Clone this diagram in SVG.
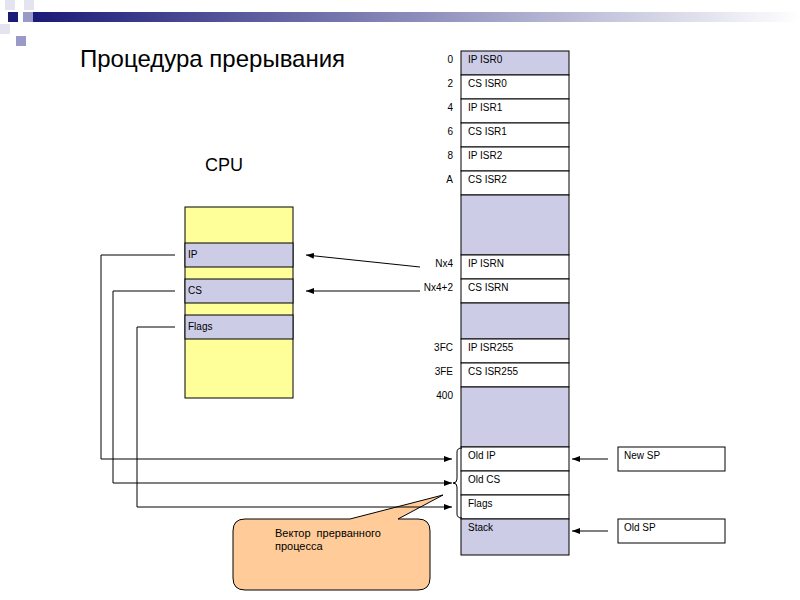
<svg xmlns="http://www.w3.org/2000/svg" width="800" height="600" viewBox="0 0 800 600">
<defs>
<linearGradient id="g" x1="0" x2="1"><stop offset="0" stop-color="#1a1a78"/><stop offset="1" stop-color="#ffffff"/></linearGradient>
<marker id="a" markerWidth="8" markerHeight="6" refX="8" refY="3" orient="auto" markerUnits="userSpaceOnUse"><path d="M0,0L8,3L0,6z" fill="#000"/></marker>
<style>
.c{stroke:#000;stroke-width:1}
.w{fill:#fff}.l{fill:#ccccE6}
text{font-family:"Liberation Sans",Arial,sans-serif;font-size:10px;fill:#000}
.n{text-anchor:end}
.k{fill:none;stroke:#000;stroke-width:1}
</style>
</defs>
<rect width="800" height="600" fill="#fff"/>
<rect x="33" y="12" width="767" height="10" fill="url(#g)"/>
<rect x="5" y="0" width="10" height="10" fill="#e4e4f0"/>
<rect x="24" y="0" width="10" height="10" fill="#e4e4f0"/>
<rect x="8" y="12" width="10" height="10" fill="#1a1a78"/>
<rect x="23" y="12" width="10" height="10" fill="#9a9ac8"/>
<rect x="0" y="24" width="10" height="10" fill="#e4e4f0"/>
<rect x="16" y="36" width="10" height="10" fill="#9a9ac8"/>
<text x="80" y="67" style="font-size:24px">Процедура прерывания</text>
<text x="205" y="171" style="font-size:18px">CPU</text>
<g id="cpu">
<rect x="185" y="207" width="108" height="191" fill="#ffff99" class="c"/>
<rect x="185" y="243" width="108" height="24" class="c l"/><text x="188" y="258">IP</text>
<rect x="185" y="279" width="108" height="24" class="c l"/><text x="188" y="294">CS</text>
<rect x="185" y="315" width="108" height="24" class="c l"/><text x="188" y="330">Flags</text>
</g>
<g id="memory">
<rect x="461" y="51" width="108" height="24" class="c l"/><text x="468" y="63">IP ISR0</text><text class="n" x="453" y="63">0</text>
<rect x="461" y="75" width="108" height="24" class="c w"/><text x="468" y="87">CS ISR0</text><text class="n" x="453" y="87">2</text>
<rect x="461" y="99" width="108" height="24" class="c w"/><text x="468" y="111">IP ISR1</text><text class="n" x="453" y="111">4</text>
<rect x="461" y="123" width="108" height="24" class="c w"/><text x="468" y="135">CS ISR1</text><text class="n" x="453" y="135">6</text>
<rect x="461" y="147" width="108" height="24" class="c w"/><text x="468" y="159">IP ISR2</text><text class="n" x="453" y="159">8</text>
<rect x="461" y="171" width="108" height="24" class="c w"/><text x="468" y="183">CS ISR2</text><text class="n" x="453" y="183">A</text>
<rect x="461" y="195" width="108" height="60" class="c l"/>
<rect x="461" y="255" width="108" height="24" class="c w"/><text x="468" y="267">IP ISRN</text><text class="n" x="453" y="267">Nx4</text>
<rect x="461" y="279" width="108" height="24" class="c w"/><text x="468" y="291">CS ISRN</text><text class="n" x="453" y="291">Nx4+2</text>
<rect x="461" y="303" width="108" height="36" class="c l"/>
<rect x="461" y="339" width="108" height="24" class="c w"/><text x="468" y="351">IP ISR255</text><text class="n" x="453" y="351">3FC</text>
<rect x="461" y="363" width="108" height="24" class="c w"/><text x="468" y="375">CS ISR255</text><text class="n" x="453" y="375">3FE</text>
<rect x="461" y="387" width="108" height="60" class="c l"/><text class="n" x="453" y="399">400</text>
<rect x="461" y="447" width="108" height="24" class="c w"/><text x="468" y="459">Old IP</text>
<rect x="461" y="471" width="108" height="24" class="c w"/><text x="468" y="483">Old CS</text>
<rect x="461" y="495" width="108" height="24" class="c w"/><text x="468" y="507">Flags</text>
<rect x="461" y="519" width="108" height="36" class="c l"/><text x="468" y="531">Stack</text>
</g>
<g id="newsp"><rect x="618" y="447" width="107" height="24" class="c w"/><text x="624" y="459">New SP</text></g>
<g id="oldsp"><rect x="618" y="519" width="107" height="24" class="c w"/><text x="624" y="531">Old SP</text></g>
<g id="callout">
<path d="M245,519 L350,519 L443,495 L398,519 L418,519 Q430,519 430,531 L430,578 Q430,590 418,590 L245,590 Q233,590 233,578 L233,531 Q233,519 245,519 Z" fill="#ffcc99" stroke="#000"/>
<text x="275" y="537" style="font-size:11px;word-spacing:3px">Вектор прерванного</text>
<text x="275" y="550" style="font-size:11px">процесса</text>
</g>
<path class="k" d="M462,448 Q457,448 457,452 L457,479 Q457,483 453,483 Q457,483 457,487 L457,514 Q457,518 462,518"/>
<g id="connectors">
<line class="k" x1="420" y1="267" x2="306" y2="255" marker-end="url(#a)"/>
<line class="k" x1="420" y1="291" x2="306" y2="291" marker-end="url(#a)"/>
<polyline class="k" points="175,255 101,255 101,459 452,459" marker-end="url(#a)"/>
<polyline class="k" points="175,291 113,291 113,483 452,483" marker-end="url(#a)"/>
<polyline class="k" points="175,327 137,327 137,507 452,507" marker-end="url(#a)"/>
<line class="k" x1="608" y1="459" x2="572" y2="459" marker-end="url(#a)"/>
<line class="k" x1="608" y1="531" x2="572" y2="531" marker-end="url(#a)"/>
</g>
</svg>
